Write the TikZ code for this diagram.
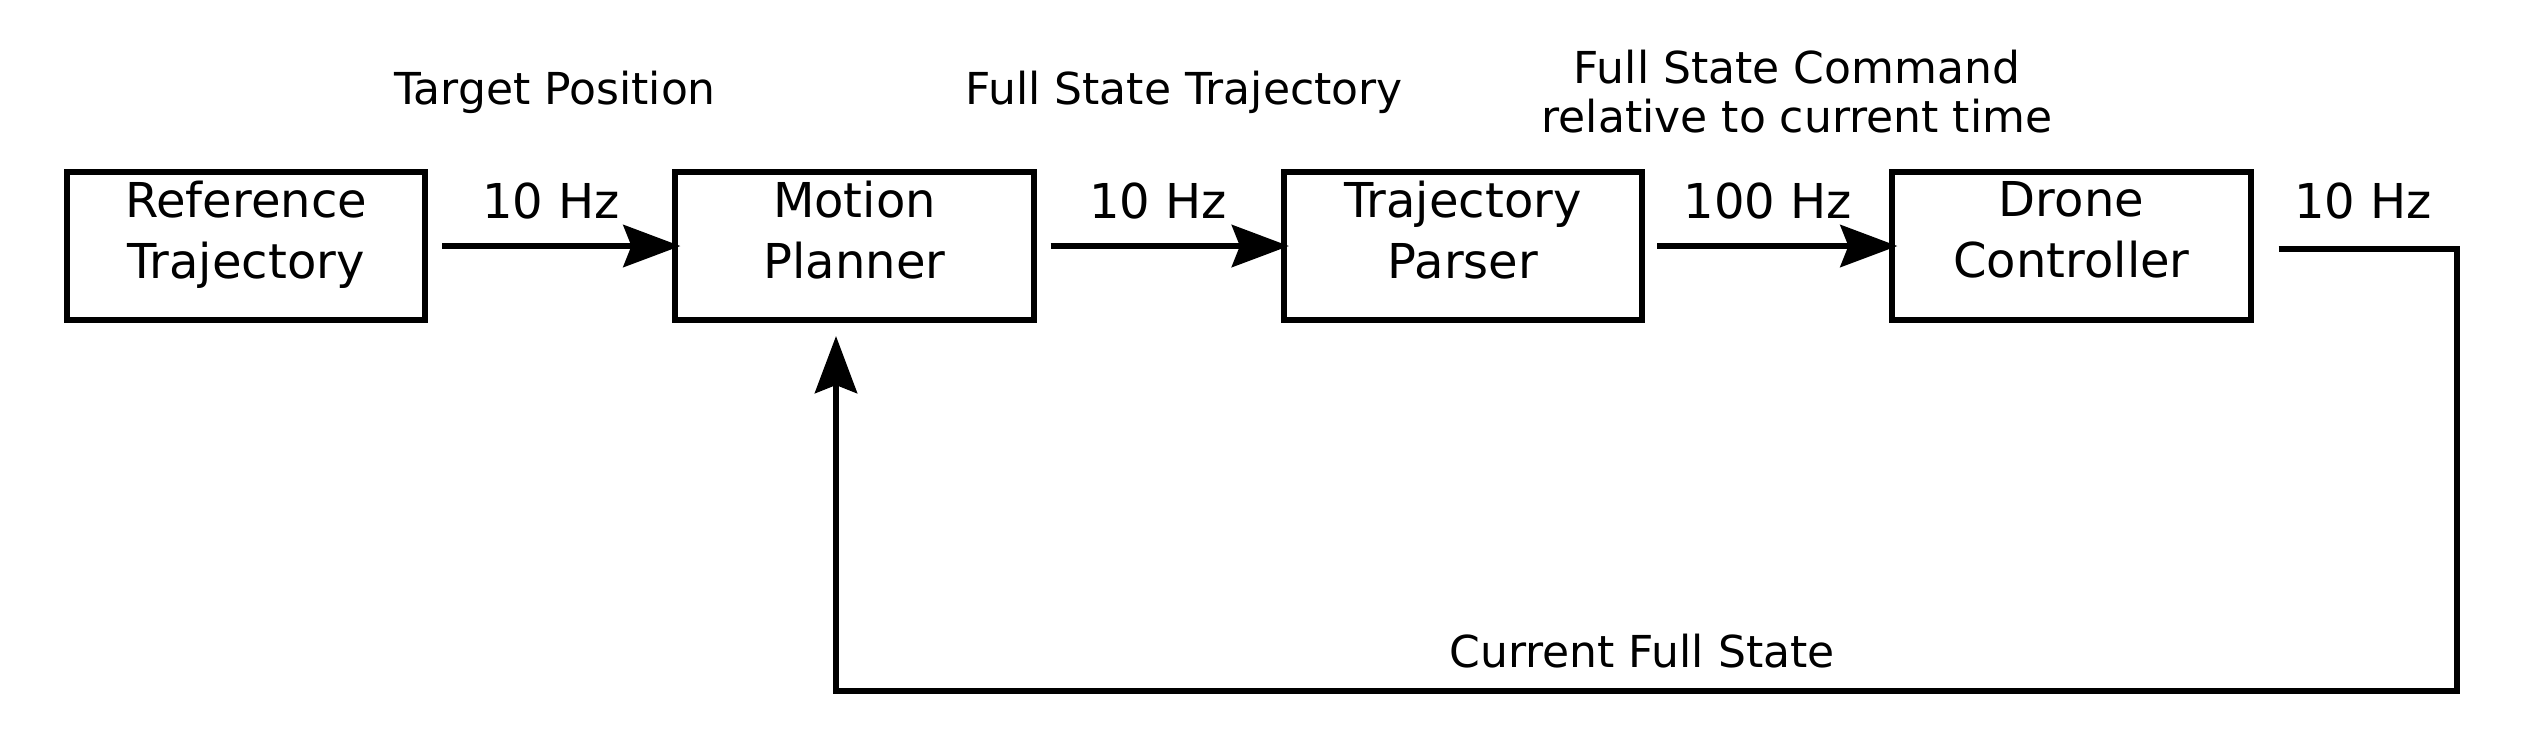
\documentclass[tikz,border=0pt]{standalone}
\usepackage{fontspec}
\setmainfont{DejaVu Sans}
\usetikzlibrary{arrows.meta}
\begin{document}
\begin{tikzpicture}[x=0.01cm, y=-0.01cm,
 box/.style={draw, line width=0.06cm, minimum width=3.58cm, minimum height=1.48cm, inner sep=0pt, outer sep=0pt},
 boxtxt/.style={font=\fontsize{13.66pt}{17.36pt}\selectfont, align=center, inner sep=0pt, anchor=north, yshift=-0.085cm},
 hz/.style={font=\fontsize{13.66pt}{17.36pt}\selectfont, inner sep=0pt, anchor=base},
 sig/.style={font=\fontsize{12.52pt}{13.94pt}\selectfont, inner sep=0pt, align=center},
 arr/.style={line width=0.063cm, line join=miter, -{Stealth[length=0.57cm,width=0.42cm,inset=0.08cm]}}
]
\useasboundingbox (0,0) rectangle (2524,744);

% boxes
\node[box, label={[boxtxt]north:{Reference\\Trajectory}}] (rt) at (246,246) {};
\node[box, label={[boxtxt]north:{Motion\\Planner}}] (mp) at (854.5,246) {};
\node[box, label={[boxtxt]north:{Trajectory\\Parser}}] (tp) at (1463,246) {};
\node[box, label={[boxtxt]north:{Drone\\Controller}}] (dc) at (2071.5,246) {};

% forward arrows
\draw[arr] ([xshift=0.17cm]rt.east) -- ([xshift=0.05cm]mp.west);
\draw[arr] ([xshift=0.17cm]mp.east) -- ([xshift=0.05cm]tp.west);
\draw[arr] ([xshift=0.15cm]tp.east) -- ([xshift=0.05cm]dc.west);

% rate labels
\node[hz] (hz1) at (551,218) {10 Hz};
\node[hz] (hz2) at (1158,218) {10 Hz};
\node[hz] (hz3) at (1768,218) {100 Hz};
\node[hz] (hz4) at (2363,218) {10 Hz};

% signal labels
\node[sig, anchor=base] (lbtp) at (555,104) {Target Position};
\node[sig, anchor=base] (lbfst) at (1184,104) {Full State Trajectory};
\node[sig, anchor=north] (lbfsc) at (1797,49.6) {Full State Command\\relative to current time};
\node[sig, anchor=base] (lbcfs) at (1642,667) {Current Full State};

% feedback
\coordinate (fbtr) at (2457,249);
\coordinate (fbbr) at (2457,691);
\coordinate (fbbl) at (836,691);
\coordinate (fbtip) at (836,336);
\draw[arr] ([shift={(28,3)}]dc.east) -- (fbtr) -- (fbbr) -- (fbbl) -- (fbtip);
\end{tikzpicture}
\end{document}
